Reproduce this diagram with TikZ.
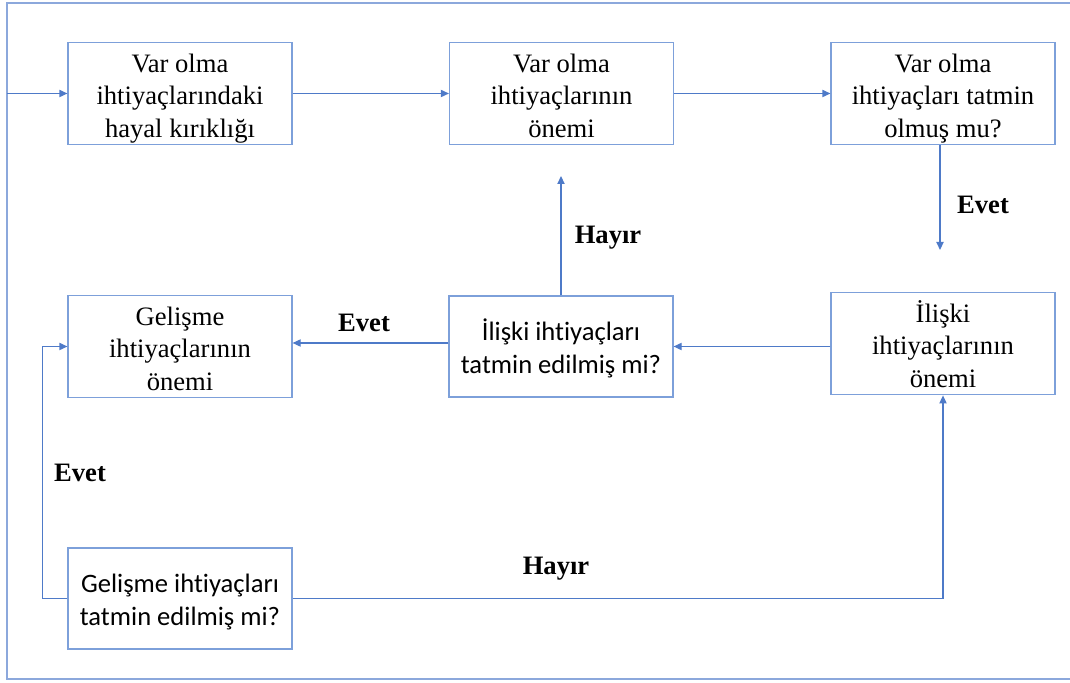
\documentclass[tikz,border=0pt]{standalone}
\usepackage{fontspec}
\setmainfont{Liberation Serif}
\newfontfamily\calibri[Ligatures=NoCommon]{Carlito}
\usetikzlibrary{arrows.meta}
\definecolor{boxc}{RGB}{125,160,218}
\definecolor{linec}{RGB}{78,122,200}
\definecolor{framec}{RGB}{140,168,220}
\newcommand\mytopst{\rule{0pt}{15pt}}
\newcommand\mytopsa{\rule{0pt}{14pt}}
\newcommand\mybotst{\rule[-3.5pt]{0pt}{3.5pt}}
\begin{document}
\begin{tikzpicture}[x=0.5pt,y=-0.5pt,
 box/.style={draw=boxc, line width=0.6pt, minimum width=112pt, minimum height=50.5pt, inner sep=0pt, align=center, font=\fontsize{13.3}{16.4}\selectfont},
 sbox/.style={box, font=\calibri\fontsize{13.3}{16.2}\selectfont},
 conn/.style={draw=linec, line width=0.6pt, -{Triangle[length=4pt,width=3.6pt]}},
 lab/.style={font=\bfseries\fontsize{13.3}{16}\selectfont}]
\useasboundingbox (0,0) rectangle (1070,683);
\draw[framec, line width=0.6pt] (1070,3) -- (7,3) -- (7,679) -- (1070,679);

\node[box] (A) at (180,93.5) {\mytopst Var olma\\ihtiyaçlarındaki\\hayal kırıklığı\mybotst};
\node[box] (B) at (561.5,93.5) {\mytopst Var olma\\ihtiyaçlarının\\önemi\mybotst};
\node[box] (C) at (943,93.5) {\mytopst Var olma\\ihtiyaçları tatmin\\olmuş mu?\mybotst};
\node[box] (D) at (180,346.5) {\mytopst Gelişme\\ihtiyaçlarının\\önemi\mybotst};
\node[sbox] (E) at (561,346.5) {\mytopsa İlişki ihtiyaçları\\tatmin edilmiş mi?\mybotst};
\node[box] (F) at (943,343.5) {\mytopst İlişki\\ihtiyaçlarının\\önemi\mybotst};
\node[sbox] (G) at (180,598.5) {\mytopsa Gelişme ihtiyaçları\\tatmin edilmiş mi?\mybotst};

\coordinate (in) at (7,93.5);
\coordinate (c1) at (940,250);
\coordinate (h1) at (561,176);

\draw[conn] (in) -- (A.west);
\draw[conn] (A) -- (B);
\draw[conn] (B) -- (C);
\draw[conn] (C.south -| c1) -- (c1);
\draw[conn] (F.west |- E.east) -- (E.east);
\draw[conn] ([yshift=1.75pt]E.west) -- ([yshift=1.75pt]D.east);
\draw[conn] (E.north) -- (h1);
\draw[conn] (G.west) -- ++(-25,0) |- (D.west);
\draw[conn] (G.east) -| (F.south);

\node[lab] (l1) at (983,205) {Evet};
\node[lab] (l2) at (608,238) {Hayır};
\node[lab] (l3) at (364,323) {Evet};
\node[lab] (l4) at (80,473) {Evet};
\node[lab] (l5) at (556,569) {Hayır};
\end{tikzpicture}
\end{document}
